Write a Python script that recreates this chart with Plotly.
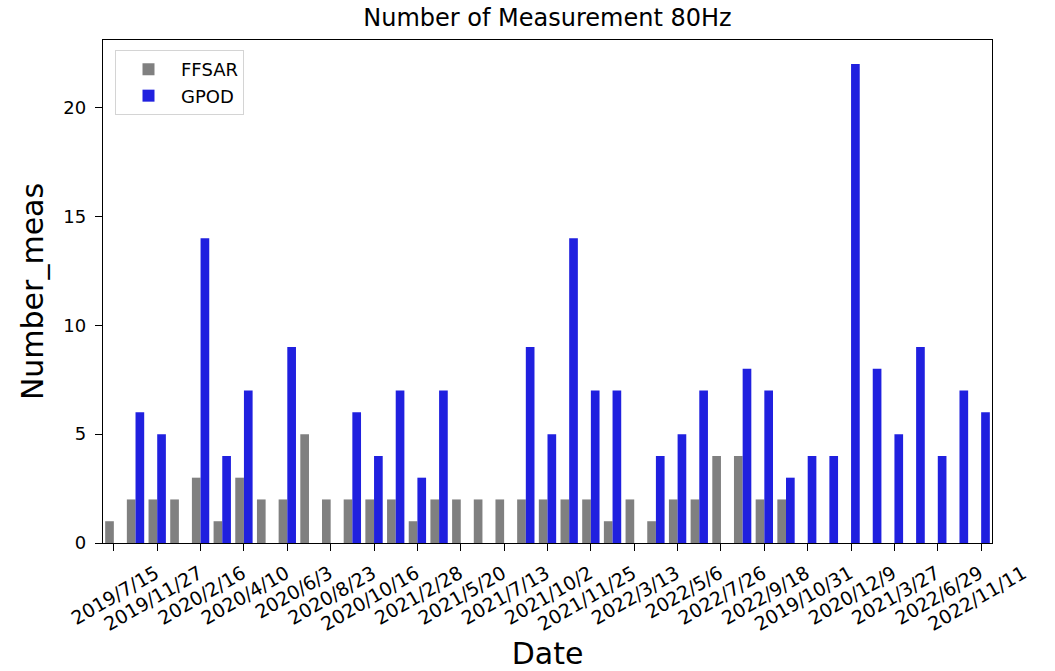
import plotly.graph_objects as go

# Number of measurements per acquisition date (41 dates, ticks on every other one)
ffsar = [1, 2, 2, 2, 3, 1, 3, 2, 2, 5,
         2, 2, 2, 2, 1, 2, 2, 2, 2, 2,
         2, 2, 2, 1, 2, 1, 2, 2, 4, 4,
         2, 2, 0, 0, 0, 0, 0, 0, 0, 0,
         0]
gpod = [0, 6, 5, 0, 14, 4, 7, 0, 9, 0,
        0, 6, 4, 7, 3, 7, 0, 0, 0, 9,
        5, 14, 7, 7, 0, 4, 5, 7, 0, 8,
        7, 3, 4, 4, 22, 8, 5, 9, 4, 7,
        6]
tick_labels = ["2019/7/15", "2019/11/27", "2020/2/16", "2020/4/10", "2020/6/3",
               "2020/8/23", "2020/10/16", "2021/2/28", "2021/5/20", "2021/7/13",
               "2021/10/2", "2021/11/25", "2022/3/13", "2022/5/6", "2022/7/26",
               "2022/9/18", "2019/10/31", "2020/12/9", "2021/3/27", "2022/6/29",
               "2022/11/11"]
series_names = ["FFSAR", "GPOD"]

x = list(range(len(ffsar)))
tickvals = x[::2]

FONT = "DejaVu Sans"
fig = go.Figure()
fig.add_trace(go.Bar(x=x, y=ffsar, name=series_names[0],
                     marker=dict(color="#808080", line=dict(width=0))))
fig.add_trace(go.Bar(x=x, y=gpod, name=series_names[1],
                     marker=dict(color="#2020df", line=dict(width=0))))

fig.update_layout(
    width=1055, height=671,
    margin=dict(l=103, r=63, t=40, b=128, autoexpand=False),
    paper_bgcolor="white", plot_bgcolor="white",
    barmode="group", bargap=0.2, bargroupgap=0,
    font=dict(family=FONT, color="black", size=18),
    title=dict(text="Number of Measurement 80Hz", x=0.5, xref="paper", xanchor="center",
               y=1 - 18 / 671, yref="container", yanchor="middle",
               font=dict(size=24, family=FONT, color="black")),
    legend=dict(x=0.0135, y=0.98, xanchor="left", yanchor="top",
                bgcolor="white", bordercolor="#d4d4d4", borderwidth=1,
                itemwidth=55, tracegroupgap=6,
                font=dict(size=18, family=FONT, color="black")),
    xaxis=dict(range=[-0.5, 40.5], tickmode="array", tickvals=tickvals, ticktext=tick_labels,
               tickangle=-30, ticks="outside", ticklen=7, tickwidth=1.3, tickcolor="black",
               ticklabelshift=42, ticklabelstandoff=4, automargin=False,
               showline=True, linecolor="black", linewidth=1.3, mirror=True,
               showgrid=False, zeroline=False,
               tickfont=dict(size=19, family=FONT, color="black"),
               title=dict(text="Date", standoff=14, font=dict(size=30, family=FONT, color="black"))),
    yaxis=dict(range=[0, 23.1], tickmode="array", tickvals=[0, 5, 10, 15, 20],
               ticks="outside", ticklen=7, tickwidth=1.3, tickcolor="black",
               ticklabelstandoff=5, automargin=False,
               showline=True, linecolor="black", linewidth=1.3, mirror=True,
               showgrid=False, zeroline=False,
               tickfont=dict(size=18, family=FONT, color="black"),
               title=dict(text="Number_meas", standoff=10, font=dict(size=30, family=FONT, color="black"))),
)

fig.write_html("out.html")
